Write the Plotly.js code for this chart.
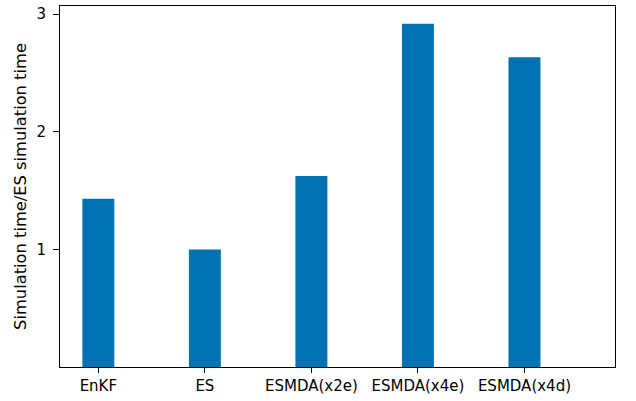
<!DOCTYPE html>
<html>
<head>
<meta charset="utf-8">
<script src="https://cdn.plot.ly/plotly-3.0.1.min.js"></script>
<style>
  html, body { margin: 0; padding: 0; background: #ffffff; }
  #chart { width: 636px; height: 401px; }
</style>
</head>
<body>
<div id="chart"></div>
<script>
// Run time of each data-assimilation method, relative to ES
const methods = ['EnKF', 'ES', 'ESMDA(x2e)', 'ESMDA(x4e)', 'ESMDA(x4d)'];
const relativeTime = [1.43, 1.0, 1.625, 2.92, 2.635];
const yTicks = [1, 2, 3];

const positions = methods.map((_, i) => i);

const trace = {
  type: 'bar',
  x: positions,
  y: relativeTime,
  width: 0.3,
  marker: { color: '#0173b2', line: { width: 0 } },
  hoverinfo: 'skip'
};

const tickFont = { family: 'DejaVu Sans, sans-serif', size: 15, color: '#000000' };
const titleFont = { family: 'DejaVu Sans, sans-serif', size: 16.3, color: '#000000' };

const layout = {
  width: 636,
  height: 401,
  margin: { l: 60, r: 21, t: 6, b: 34 },
  paper_bgcolor: '#ffffff',
  plot_bgcolor: '#ffffff',
  showlegend: false,
  font: tickFont,
  xaxis: {
    range: [-0.36, 4.85],
    tickmode: 'array',
    tickvals: positions,
    ticktext: methods,
    ticks: 'outside',
    ticklen: 5,
    tickwidth: 1,
    tickcolor: '#000000',
    showgrid: false,
    zeroline: false,
    showline: true,
    mirror: true,
    linecolor: '#000000',
    linewidth: 1,
    tickfont: tickFont
  },
  yaxis: {
    range: [0, 3.07],
    tickmode: 'array',
    tickvals: yTicks,
    ticktext: yTicks.map(String),
    ticks: 'outside',
    ticklen: 6,
    tickwidth: 1,
    tickcolor: '#000000',
    ticklabelstandoff: 4,
    showgrid: false,
    zeroline: false,
    showline: true,
    mirror: true,
    linecolor: '#000000',
    linewidth: 1,
    tickfont: tickFont,
    title: { text: 'Simulation time/ES simulation time', font: titleFont, standoff: 5 }
  }
};

Plotly.newPlot('chart', [trace], layout, { displayModeBar: false, staticPlot: true });
</script>
</body>
</html>
